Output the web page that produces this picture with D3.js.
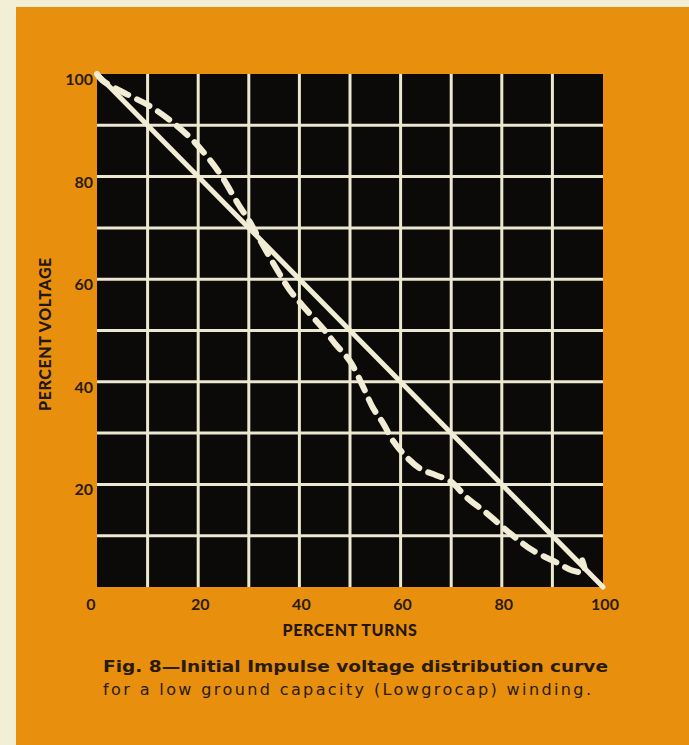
<!DOCTYPE html>
<html>
<head>
<meta charset="utf-8">
<script src="https://cdn.jsdelivr.net/npm/d3@7"></script>
<style>
  html, body { margin: 0; padding: 0; background: #f3eed6; }
  svg { display: block; }
  .tick-label { font-family: Lato, "Open Sans", sans-serif; font-weight: 700; font-size: 16px; fill: #2b1b06; }
  .axis-title { font-family: Lato, "Open Sans", sans-serif; font-weight: 900; font-size: 16px; fill: #24170a; letter-spacing: 0.6px; }
  .caption { font-family: "DejaVu Sans", Lato, sans-serif; font-size: 16px; fill: #2a1a08; }
</style>
</head>
<body>
<svg id="chart" width="689" height="745"></svg>
<script>
// values
const xTicks = [0, 20, 40, 60, 80, 100];
const yTicks = [20, 40, 60, 80, 100];
const gridSteps = [10, 20, 30, 40, 50, 60, 70, 80, 90];

// straight line (uniform distribution)
const uniformTurns = [0, 100];
const uniformVolts = [100, 0];

// dashed curve: initial impulse distribution
const impulseTurns = [0, 1, 6, 10, 14.4, 19, 24, 28, 30, 32, 35.5, 38, 41.4, 45, 47, 50, 52.6, 54.5, 56.5, 58.5, 61, 64, 67, 70, 73, 77, 81.6, 86, 91, 94, 96.3, 95.9];
const impulseVolts = [100, 98.8, 96, 94, 91, 87, 81, 74.5, 71.5, 68, 62, 58, 54, 50, 47.5, 44, 39, 35, 32, 28.5, 25.5, 23, 21.8, 20.5, 17.5, 14.4, 10.5, 7.2, 4.7, 3.2, 3.0, 5.2];

const captionLines = [
  "Fig. 8\u2014Initial Impulse voltage distribution curve",
  "for a low ground capacity (Lowgrocap) winding."
];

const svg = d3.select("#chart");

// page: cream edge with orange card
svg.append("rect").attr("x", 0).attr("y", 0).attr("width", 689).attr("height", 745).attr("fill", "#f3eed6");
svg.append("rect").attr("x", 16).attr("y", 7).attr("width", 673).attr("height", 738).attr("fill", "#e8900d");

const margin = { left: 97, top: 74, right: 86, bottom: 158 };
const w = 689 - margin.left - margin.right;
const h = 745 - margin.top - margin.bottom;

const x = d3.scaleLinear().domain([0, 100]).range([margin.left, margin.left + w]);
const y = d3.scaleLinear().domain([0, 100]).range([margin.top + h, margin.top]);

// black plot panel
svg.append("rect")
  .attr("x", x(0)).attr("y", y(100))
  .attr("width", x(100) - x(0)).attr("height", y(0) - y(100))
  .attr("fill", "#0b0a09");

// white grid
const grid = svg.append("g").attr("stroke", "#ece7cf").attr("stroke-width", 3);
grid.selectAll(".vg").data(gridSteps).enter().append("line")
  .attr("x1", d => x(d)).attr("x2", d => x(d))
  .attr("y1", y(100)).attr("y2", y(0));
grid.selectAll(".hg").data(gridSteps).enter().append("line")
  .attr("y1", d => y(d)).attr("y2", d => y(d))
  .attr("x1", x(0)).attr("x2", x(100));

// tick labels
svg.selectAll(".yl").data(yTicks).enter().append("text")
  .attr("class", "tick-label")
  .attr("x", x(0) - 4).attr("y", d => y(d) + 11)
  .attr("text-anchor", "end")
  .text(d => d);

svg.selectAll(".xl").data(xTicks).enter().append("text")
  .attr("class", "tick-label")
  .attr("x", d => x(d) + (d === 0 ? -6 : 2)).attr("y", y(0) + 23)
  .attr("text-anchor", "middle")
  .text(d => d);

// axis titles
svg.append("text").attr("class", "axis-title")
  .attr("x", 350).attr("y", 636)
  .attr("text-anchor", "middle")
  .text("PERCENT TURNS");

svg.append("text").attr("class", "axis-title")
  .attr("transform", "translate(51,334) rotate(-90)")
  .attr("text-anchor", "middle")
  .text("PERCENT VOLTAGE");

// curves
const line = d3.line().x(d => x(d[0])).y(d => y(d[1])).curve(d3.curveCatmullRom.alpha(0.5));

svg.append("path")
  .datum(d3.zip(uniformTurns, uniformVolts))
  .attr("d", d3.line().x(d => x(d[0])).y(d => y(d[1])))
  .attr("fill", "none").attr("stroke", "#f1ecd4")
  .attr("stroke-width", 5).attr("stroke-linecap", "round");

svg.append("path")
  .datum(d3.zip(impulseTurns, impulseVolts))
  .attr("d", line)
  .attr("fill", "none").attr("stroke", "#f1ecd4")
  .attr("stroke-width", 6).attr("stroke-linecap", "round")
  .attr("stroke-dasharray", "14 10");

// caption
svg.append("text").attr("class", "caption")
  .attr("x", 103).attr("y", 672)
  .attr("font-weight", 700)
  .attr("textLength", 505).attr("lengthAdjust", "spacingAndGlyphs")
  .text(captionLines[0]);

svg.append("text").attr("class", "caption")
  .attr("x", 103).attr("y", 695)
  .attr("textLength", 488).attr("lengthAdjust", "spacing")
  .text(captionLines[1]);
</script>
</body>
</html>
